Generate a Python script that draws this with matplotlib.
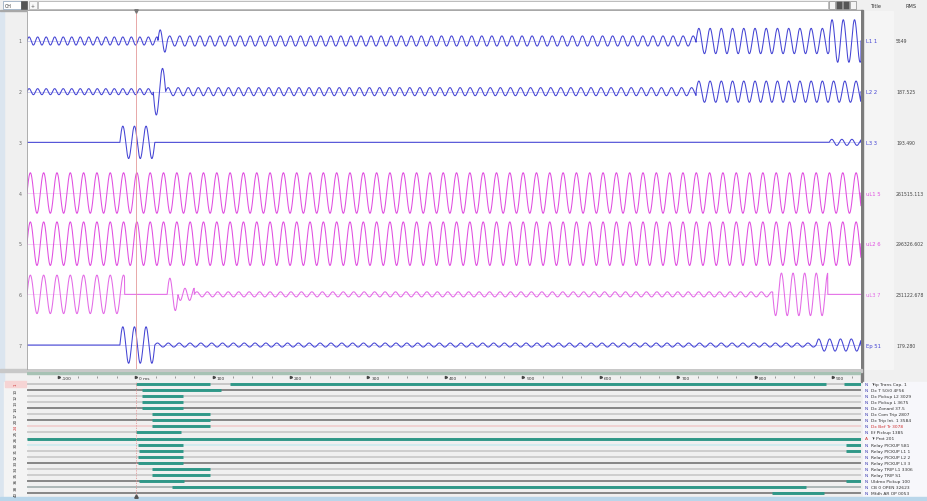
import numpy as np
import matplotlib.pyplot as plt
from matplotlib.patches import Rectangle
from matplotlib import transforms

W, H = 928, 502

# time range of the record (ms) and cursor
t_start, t_end = -141, 936
cursor_ms = 0
major_ticks = [-100, 0, 100, 200, 300, 400, 500, 600, 700, 800, 900]
major_labels = ['-100', '0 ms', '100', '200', '300', '400', '500', '600', '700', '800', '900']

# analog channels
chan_ids = ['1', '2', '3', '4', '5', '6', '7']
chan_names = ['L1 1', 'L2 2', 'L3 3', 'uL1 5', 'uL2 6', 'uL3 7', 'Ep 51']
chan_rms = ['5549', '187.525', '193.490', '261515.113', '296326.602', '231122.678', '179.280']

# envelope segments: (start ms, end ms, amplitude, period ms)
ch1_seg = [(-141, 28, 0.08, 11), (28, 40, 0.22, 12), (40, 723, 0.10, 13),
           (723, 895, 0.25, 14.5), (895, 936, 0.42, 14.5)]
ch2_seg = [(-141, 22, 0.06, 11), (22, 38, -0.46, 16), (38, 723, 0.08, 13),
           (723, 936, 0.21, 14.5)]
ch3_seg = [(-21, 24, 0.32, 15), (895, 936, 0.06, 13)]
ch4_seg = [(-141, 936, 0.40, 17.2)]
ch5_seg = [(-141, 936, 0.43, 17.2)]
ch6_seg = [(-141, -15, 0.38, 17.2), (40, 54, 0.32, 14), (54, 75, -0.12, 12),
           (75, 822, 0.05, 13.5), (822, 893, -0.42, 15)]
ch7_seg = [(-21, 24, 0.36, 15), (24, 878, 0.04, 14), (878, 936, 0.12, 14)]
segments = [ch1_seg, ch2_seg, ch3_seg, ch4_seg, ch5_seg, ch6_seg, ch7_seg]

# digital channels
dig_ids = ['1', '10', '12', '13', '14', '17', '20', '24', '25', '26',
           '30', '31', '32', '33', '34', '35', '36', '38', '40']
dig_names = ['Trip Trans Cap. 1', 'Dx T 50/0 4F56', 'Dx Pickup L2 3029', 'Dx Pickup L 3675',
             'Dx Zonard 37.5', 'Dx Com Trip 2807', 'Dx Trip Int. 1 3584', 'Dx Bef Tr 3078',
             'Ef Pickup 1385', 'Tr Prot 201', 'Relay PICKUP 581', 'Relay PICKUP L1 1',
             'Relay PICKUP L2 2', 'Relay PICKUP L3 3', 'Relay TRIP L1 3306', 'Relay TRIP S1',
             'Uldmo Pickup 100', 'CB 0 OPEN 32623', 'Mfdh AR OP 0053']
dig_flags = ['N', 'N', 'N', 'N', 'N', 'N', 'N', 'N', 'N', 'A',
             'N', 'N', 'N', 'N', 'N', 'N', 'N', 'N', 'N']
dig_on = [[(0, 95), (121, 891), (914, 936)], [(8, 110)], [(8, 60)], [(8, 60)], [(8, 60)],
          [(20, 95)], [(20, 95)], [(20, 95)], [(0, 58)], [(-141, 936)],
          [(2, 60), (916, 936)], [(3, 61), (916, 936)], [(2, 60)], [(2, 60)],
          [(21, 95)], [(21, 95)], [(3, 62), (916, 936)], [(46, 865)], [(821, 888)]]

blue = '#4444d4'
mag = '#e04ee0'
chan_colors = [blue, blue, blue, mag, mag, '#e36ae6', blue]
teal = '#2f9888'
row_line_colors = ['#bcbcbc', '#6a6a6a', '#c4c4c4', '#c4c4c4', '#6a6a6a', '#c4c4c4', '#6a6a6a',
                   '#efcaca', '#c4c4c4', '#c4c4c4', '#c8eaee', '#c4c4c4', '#c4c4c4', '#6a6a6a',
                   '#c4c4c4', '#c4c4c4', '#6a6a6a', '#9aa8a8', '#6a6a6a']


def px_rect(x0, y0, x1, y1):
    return [x0 / W, 1 - y1 / H, (x1 - x0) / W, (y1 - y0) / H]


fig = plt.figure(figsize=(W / 100, H / 100), dpi=100)
fig.patch.set_facecolor('#f0f0f0')

# window chrome (pixel coordinates)
ch = fig.add_axes([0, 0, 1, 1], zorder=0)
ch.set_xlim(0, W)
ch.set_ylim(H, 0)
ch.axis('off')
ch.add_patch(Rectangle((0, 12), 4, 490, color='#dbe5ef'))
ch.add_patch(Rectangle((0, 11), 862, 1, color='#a8a8a8'))
ch.add_patch(Rectangle((3, 1.5), 18, 8.5, fc='white', ec='#8aa0b8', lw=0.5))
ch.text(5, 6, 'CH', fontsize=3.4, va='center', color='#333333')
ch.add_patch(Rectangle((21, 1.5), 6, 8.5, fc='#555555', ec='#555555', lw=0.5))
ch.add_patch(Rectangle((29, 1.5), 8, 8.5, fc='#f8f8f8', ec='#aaaaaa', lw=0.5))
ch.text(33, 6, '+', fontsize=3.4, ha='center', va='center', color='#555555')
ch.add_patch(Rectangle((38, 1.5), 790, 8.5, fc='white', ec='#b4b4b4', lw=0.6))
for bx, fc in zip([829, 836, 843, 850], ['#f4f4f4', '#555555', '#555555', '#f4f4f4']):
    ch.add_patch(Rectangle((bx, 1.5), 6.5, 8.5, fc=fc, ec='#888888', lw=0.5))
ch.text(870, 6, 'Title', fontsize=3.6, va='center', color='#333333')
ch.text(906, 6, 'RMS', fontsize=3.6, va='center', color='#333333')
ch.add_patch(Rectangle((863, 12), 30, 358, color='#f5f5f5'))
ch.add_patch(Rectangle((861, 11), 2.2, 372, color='#7c7c7c'))
ch.add_patch(Rectangle((0, 370), 862, 3, color='#c8c8c8'))
ch.add_patch(Rectangle((4, 383), 23, 115, color='#f4f4f4'))
ch.add_patch(Rectangle((863, 383), 65, 115, color='#f7f7fb'))
ch.add_patch(Rectangle((0, 498), W, 4, color='#b9d6ea'))

# analog waveforms
ax = fig.add_axes(px_rect(27, 12, 861, 370))
ax.set_xlim(t_start, t_end)
ax.set_ylim(7.473, 0.408)
ax.set_facecolor('white')
ax.set_xticks([])
ax.set_yticks([])
for s in ['top', 'right', 'bottom']:
    ax.spines[s].set_visible(False)
ax.spines['left'].set_color('#a0a0a0')
ax.spines['left'].set_linewidth(0.6)

t = np.linspace(t_start, t_end, 8000)
for i, segs in enumerate(segments):
    y = np.zeros_like(t)
    for t0, t1, amp, per in segs:
        m = (t >= t0) & (t < t1)
        y[m] += amp * np.sin(2 * np.pi * (t[m] - t0) / per)
    base = i + 1
    ax.axhline(base, color=chan_colors[i], lw=0.4, alpha=0.45)
    ax.plot(t, base - y, color=chan_colors[i], lw=0.75)

ax.axvline(cursor_ms, color='#e49a9a', lw=0.6)
ax.plot([cursor_ms], [0.408], marker='v', ms=2.5, color='#777777', clip_on=False)

tr = transforms.blended_transform_factory(fig.transFigure, ax.transData)
for i in range(7):
    ax.text(20 / W, i + 1, chan_ids[i], transform=tr, fontsize=3.4, color='#666666',
            ha='center', va='center')
    ax.text(866 / W, i + 1, chan_names[i], transform=tr, fontsize=3.8,
            color=chan_colors[i], va='center')
    ax.text(896 / W, i + 1, chan_rms[i], transform=tr, fontsize=3.3,
            color='#444444', va='center', clip_on=False)

# time strip
ts = fig.add_axes(px_rect(27, 373, 861, 382))
ts.set_xlim(t_start, t_end)
ts.set_ylim(0, 1)
ts.set_facecolor('#f3e3e7')
ts.axis('off')
ts.add_patch(Rectangle((t_start, 0.75), t_end - t_start, 0.25, color='#a7c2b4'))
for tk, lb in zip(major_ticks, major_labels):
    ts.plot([tk], [0.45], marker='>', ms=1.6, color='#444444')
    ts.text(tk + 4, 0.35, lb, fontsize=3.2, color='#333333', va='center')
for tk in np.arange(-125, t_end, 25):
    if tk % 100 != 0:
        ts.plot([tk], [0.5], marker='|', ms=1.2, mew=0.5, color='#777777')

# digital channels
dx = fig.add_axes(px_rect(27, 382, 861, 497))
dx.set_xlim(t_start, t_end)
dx.set_ylim(len(dig_ids) - 0.5, -0.5)
dx.set_facecolor('white')
dx.axis('off')
for r in range(len(dig_ids)):
    dx.axhline(r, color=row_line_colors[r], lw=1.1)
    for a, b in dig_on[r]:
        dx.hlines(r, a, b, color=teal, lw=2.1)
dx.axvline(cursor_ms, color='#e49a9a', lw=0.6, ls=(0, (1.5, 1.5)))
dx.plot([cursor_ms], [len(dig_ids) - 0.5], marker='^', ms=2.5, color='#555555', clip_on=False)

trd = transforms.blended_transform_factory(fig.transFigure, dx.transData)
for r in range(len(dig_ids)):
    lab_col = '#d03030' if r in (0, 7) else '#333333'
    if r == 0:
        dx.add_patch(Rectangle((5 / W, r - 0.5), 21 / W, 1, transform=trd,
                               color='#f6d4d4', clip_on=False))
    dx.text(16 / W, r, dig_ids[r], transform=trd, fontsize=3.0, rotation=90,
            color=lab_col, ha='center', va='center')
    name_col = '#d03030' if r == 7 else '#333333'
    flag_col = '#d03030' if dig_flags[r] == 'A' else '#3a3ab0'
    dx.text(865 / W, r, dig_flags[r], transform=trd, fontsize=3.2, color=flag_col,
            va='center', clip_on=False)
    dx.text(871 / W, r, dig_names[r], transform=trd, fontsize=3.2, color=name_col,
            va='center', clip_on=False)

fig.savefig('out.png', dpi=100)
